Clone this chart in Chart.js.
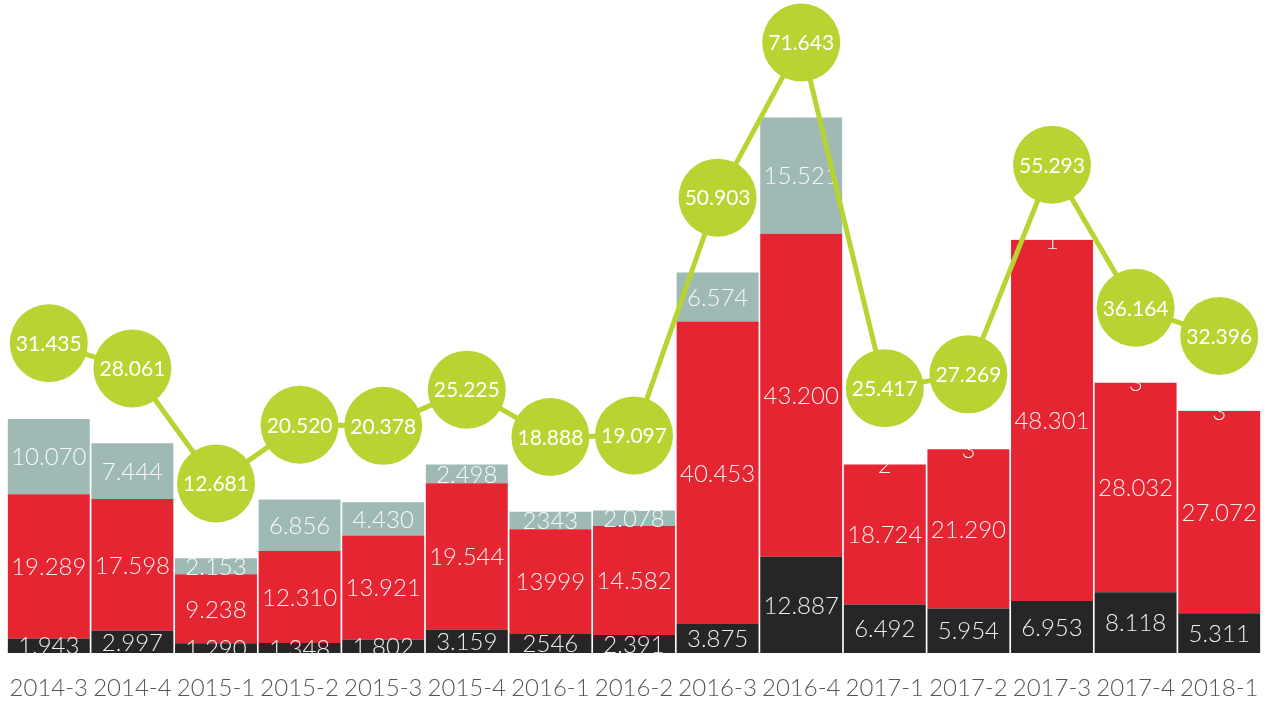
<!DOCTYPE html>
<html lang="en">
  <head>
    <meta charset="UTF-8" />
    <title>Quarterly totals</title>
    <script src="https://cdn.jsdelivr.net/npm/chart.js@4.4.1/dist/chart.umd.min.js"></script>
    <style>
      html, body { margin: 0; padding: 0; background: #fff; }
      #wrap { width: 1270px; height: 701px; }
    </style>
  </head>
  <body>
    <div id="wrap"><canvas id="myChart"></canvas></div>
    <script>
      const quarters = ["2014-3", "2014-4", "2015-1", "2015-2", "2015-3", "2015-4", "2016-1", "2016-2",
        "2016-3", "2016-4", "2017-1", "2017-2", "2017-3", "2017-4", "2018-1"]
      const darkPart = [1943, 2997, 1290, 1348, 1802, 3159, 2546, 2391, 3875, 12887, 6492, 5954, 6953, 8118, 5311]
      const redPart = [19289, 17598, 9238, 12310, 13921, 19544, 13999, 14582, 40453, 43200, 18724, 21290, 48301, 28032, 27072]
      const greyPart = [10070, 7444, 2153, 6856, 4430, 2498, 2343, 2078, 6574, 15521, 2, 3, 1, 3, 3]
      const totals = [31435, 28061, 12681, 20520, 20378, 25225, 18888, 19097, 50903, 71643, 25417, 27269, 55293, 36164, 32396]
      // quarters whose bar labels are printed without the thousands dot
      const plainQuarters = ["2016-1"]

      const FONT = "Lato, 'Open Sans', sans-serif"

      function fmt(n, plain) {
        const s = String(n)
        if (plain) return s
        return s.replace(/\B(?=(\d{3})+(?!\d))/g, ".")
      }

      // bar labels go on top of every segment, the totals go inside the circles
      const valueLabels = {
        id: "valueLabels",
        beforeDatasetDraw(chart, args) {
          const ds = chart.data.datasets[args.index]
          if (ds.type !== "line") return
          const ctx = chart.ctx
          const area = chart.chartArea
          ctx.save()
          ctx.beginPath()
          ctx.rect(area.left, area.top, area.right - area.left, area.bottom - area.top)
          ctx.clip()
          ctx.textAlign = "center"
          ctx.textBaseline = "middle"
          ctx.fillStyle = "rgba(255,255,255,0.92)"
          ctx.font = "300 24px " + FONT
          chart.data.datasets.forEach((set, di) => {
            if (set.type !== "bar") return
            chart.getDatasetMeta(di).data.forEach((bar, i) => {
              const plain = plainQuarters.includes(quarters[i])
              const y = (bar.y + bar.base) / 2
              ctx.fillText(fmt(set.data[i], plain), bar.x, y + 1)
            })
          })
          ctx.restore()
        },
        afterDatasetDraw(chart, args) {
          const ds = chart.data.datasets[args.index]
          if (ds.type !== "line") return
          const ctx = chart.ctx
          ctx.save()
          ctx.textAlign = "center"
          ctx.textBaseline = "middle"
          ctx.fillStyle = "#ffffff"
          ctx.font = "400 21px " + FONT
          args.meta.data.forEach((pt, i) => {
            ctx.fillText(fmt(ds.data[i]), pt.x, pt.y + 1)
          })
          ctx.restore()
        },
      }

      const ctx = document.getElementById("myChart").getContext("2d")
      const myChart = new Chart(ctx, {
        data: {
          labels: quarters,
          datasets: [
            {
              type: "line",
              label: "Total",
              data: totals,
              yAxisID: "y2",
              borderColor: "#b8d432",
              borderWidth: 5,
              backgroundColor: "#b8d432",
              pointBackgroundColor: "#b8d432",
              pointBorderWidth: 0,
              pointRadius: 39,
              pointHoverRadius: 39,
              tension: 0,
              clip: false,
              order: 0,
            },
            {
              type: "bar",
              label: "Dark",
              data: darkPart,
              backgroundColor: "#262626",
              stack: "s",
              order: 1,
            },
            {
              type: "bar",
              label: "Red",
              data: redPart,
              backgroundColor: "#e52531",
              stack: "s",
              order: 1,
            },
            {
              type: "bar",
              label: "Grey",
              data: greyPart,
              backgroundColor: "#9fb9b4",
              stack: "s",
              order: 1,
            },
          ],
        },
        options: {
          responsive: true,
          maintainAspectRatio: false,
          animation: false,
          datasets: {
            bar: { barPercentage: 0.98, categoryPercentage: 1 },
          },
          layout: { autoPadding: false, padding: { top: 10, left: 7, right: 9, bottom: 0 } },
          plugins: {
            legend: { display: false },
            tooltip: { enabled: false },
          },
          scales: {
            x: {
              stacked: true,
              grid: { display: false, drawTicks: false },
              border: { display: false },
              ticks: {
                color: "#555555",
                padding: 21,
                maxRotation: 0,
                autoSkip: false,
                font: { family: FONT, size: 24, weight: 300 },
              },
              afterFit(scale) {
                scale.paddingLeft = 0
                scale.paddingRight = 0
                scale.height = 48
              },
            },
            y: {
              stacked: true,
              display: false,
              min: 0,
              max: 86000,
            },
            y2: {
              display: false,
              min: -10000,
              max: 76000,
            },
          },
        },
        plugins: [valueLabels],
      })
    </script>
  </body>
</html>
